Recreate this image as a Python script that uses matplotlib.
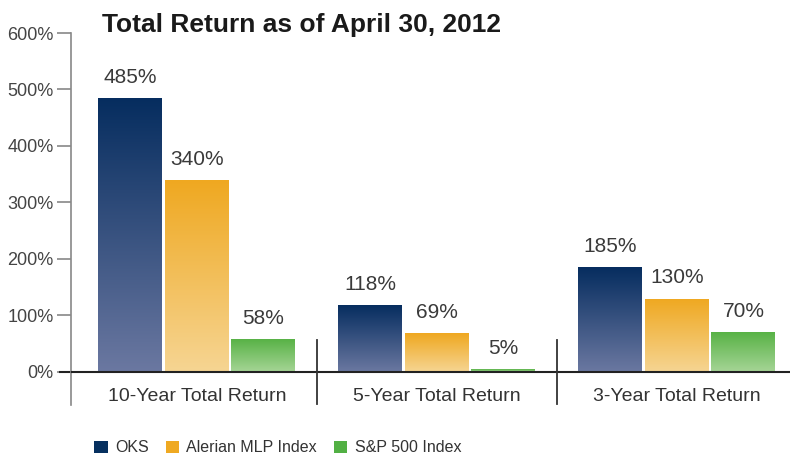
import numpy as np
import matplotlib.pyplot as plt
from matplotlib.colors import LinearSegmentedColormap
from matplotlib.patches import Patch

plt.rcParams['font.family'] = ['Liberation Sans', 'DejaVu Sans']

# datos
categories = ['10-Year Total Return', '5-Year Total Return', '3-Year Total Return']
series = ['OKS', 'Alerian MLP Index', 'S&P 500 Index']
oks = [485, 118, 185]
alerian = [340, 69, 130]
sp500 = [58, 5, 70]
values = [oks, alerian, sp500]
yticks = [0, 100, 200, 300, 400, 500, 600]

# colores: arriba oscuro, abajo claro
top_colors = ['#062d5f', '#efa820', '#58b246']
bottom_colors = ['#6b78a1', '#f6d593', '#a6d596']
legend_colors = ['#06305f', '#efa922', '#52b044']

fig = plt.figure(figsize=(7.9, 4.57), dpi=100)
ax = fig.add_axes([71 / 790, 52 / 457, 719 / 790, 372 / 457])

x = np.arange(len(categories))
width = 64 / 240
step = 66.5 / 240

for i, vals in enumerate(values):
    bars = ax.bar(x + (i - 1) * step, vals, width, facecolor='none', edgecolor='none', zorder=2)
    cmap = LinearSegmentedColormap.from_list('g%d' % i, [bottom_colors[i], top_colors[i]])
    grad = np.linspace(1, 0, 256).reshape(-1, 1)
    for b, v in zip(bars, vals):
        x0 = b.get_x()
        im = ax.imshow(grad, cmap=cmap, aspect='auto', zorder=2,
                       extent=[x0, x0 + b.get_width(), 0, b.get_height()])
        im.set_clip_path(b)
        ax.text(b.get_x() + b.get_width() / 2, v + 20, f'{v}%', ha='center', va='bottom',
                fontsize=15, color='#3a3a3a')

ax.set_xlim(-0.525, 2.471)
ax.set_ylim(-58.5, 600)

# eje x en cero
ax.axhline(0, color='#222222', lw=1.5, zorder=3, xmin=0)
ax.plot([-0.57, -0.525], [0, 0], color='#222222', lw=1.5, clip_on=False)
# separadores entre grupos
for sep in [0.5, 1.5]:
    ax.plot([sep, sep], [-56, 57], color='#333333', lw=1.3, zorder=3)

for s in ['top', 'right', 'bottom']:
    ax.spines[s].set_visible(False)
ax.spines['left'].set_color('#888888')
ax.spines['left'].set_linewidth(1.2)

ax.set_yticks(yticks)
ax.set_yticklabels([f'{t}%' for t in yticks], fontsize=13, color='#444444')
ax.tick_params(axis='y', length=10, color='#888888', width=1.2, pad=2.5)
ax.set_xticks([])

for xi, c in zip(x, categories):
    ax.text(xi, -44, c, ha='center', va='center', fontsize=14, color='#333333')

fig.text(102 / 790, 1 - 32 / 457, 'Total Return as of April 30, 2012', fontsize=19,
         fontweight='bold', color='#1a1a1a', ha='left', va='baseline')

handles = [Patch(facecolor=c, edgecolor='none') for c in legend_colors]
fig.legend(handles, series, loc='center left', bbox_to_anchor=(80 / 790, 1 - 448 / 457),
           ncol=3, frameon=False, fontsize=11.5, handlelength=0.85, handleheight=0.85,
           handletextpad=0.45, columnspacing=1.05, labelcolor='#333333')

plt.savefig('out.png', dpi=100)
